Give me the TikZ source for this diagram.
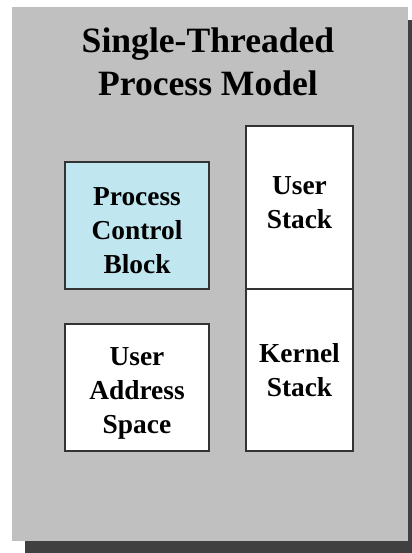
\documentclass[tikz,border=0pt]{standalone}
\usepackage{fontspec}
\setmainfont{Liberation Serif}
\definecolor{panelgray}{RGB}{192,192,192}
\definecolor{shadowgray}{RGB}{64,64,64}
\definecolor{pcbblue}{RGB}{192,230,240}
\definecolor{edgegray}{RGB}{51,51,51}
\tikzset{
  membox/.style={draw=edgegray,line width=0.75pt,fill=white,inner sep=0pt},
  boxtext/.style={align=center,font=\bfseries\fontsize{13.7}{17}\selectfont}
}
\begin{document}
\begin{tikzpicture}[x=0.5pt,y=-0.5pt]
\useasboundingbox (0,0) rectangle (412,553);
\fill[shadowgray] (25,20) rectangle (412,553);
\fill[panelgray] (12,7) rectangle (408,541);
\node[align=center,font=\bfseries\fontsize{17.8}{21.5}\selectfont] (title) at (208,62) {Single-Threaded\\Process Model};
\node[membox,fill=pcbblue,minimum width=72pt,minimum height=63.5pt,
  label={[boxtext,yshift=-2.5pt]center:Process\\Control\\Block}] (pcb) at (137,225.5) {};
\node[membox,minimum width=72pt,minimum height=63.5pt,
  label={[boxtext,yshift=-3pt]center:User\\Address\\Space}] (uas) at (137,387.5) {};
\node[membox,minimum width=53.5pt,minimum height=81.5pt,
  label={[boxtext,yshift=2.5pt]center:User\\Stack}] (ustack) at (299.5,207.5) {};
\node[membox,minimum width=53.5pt,minimum height=81pt,
  label={[boxtext]center:Kernel\\Stack}] (kstack) at (299.5,370) {};
\end{tikzpicture}
\end{document}
